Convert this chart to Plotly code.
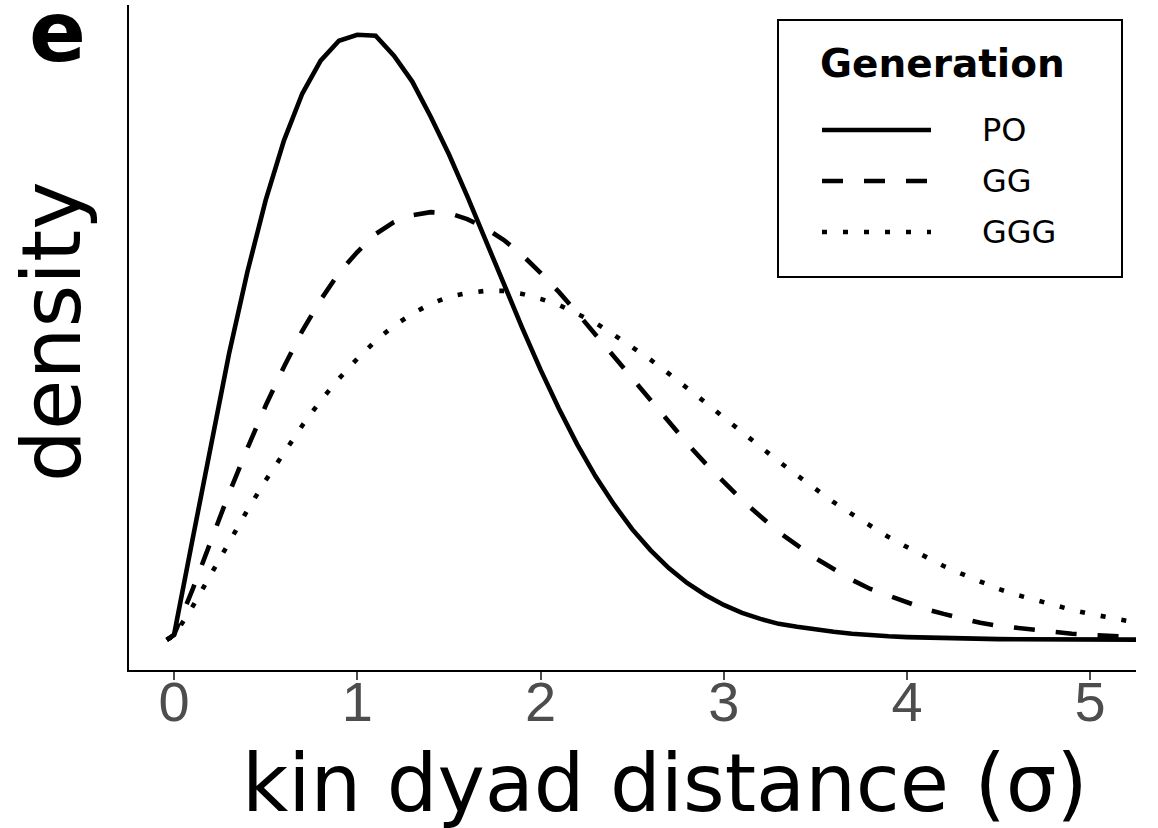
import plotly.graph_objects as go

# Kin dyad distance grid (in units of sigma)
distance = [-0.04, 0.0, 0.1, 0.2, 0.3, 0.4, 0.5, 0.6, 0.7, 0.8, 0.9,
            1.0, 1.1, 1.2, 1.3, 1.4, 1.5, 1.6, 1.7, 1.8, 1.9,
            2.0, 2.1, 2.2, 2.3, 2.4, 2.5, 2.6, 2.7, 2.8, 2.9,
            3.0, 3.1, 3.2, 3.3, 3.4, 3.5, 3.6, 3.7, 3.8, 3.9,
            4.0, 4.1, 4.2, 4.3, 4.4, 4.5, 4.6, 4.7, 4.8, 4.9,
            5.0, 5.1, 5.2, 5.3]

# Density of each generation category
density_po = [0.0, 0.005, 0.100, 0.196, 0.287, 0.369, 0.441, 0.501, 0.548, 0.581, 0.601,
              0.607, 0.606, 0.586, 0.560, 0.525, 0.487, 0.445, 0.401, 0.356, 0.313,
              0.271, 0.232, 0.196, 0.164, 0.136, 0.111, 0.090, 0.072, 0.057, 0.045,
              0.035, 0.027, 0.021, 0.016, 0.013, 0.010, 0.008, 0.006, 0.0045, 0.0035,
              0.0027, 0.0021, 0.0016, 0.0012, 0.0009, 0.0007, 0.0005, 0.0004, 0.0003, 0.0002,
              0.0002, 0.0001, 0.0001, 0.0001]
density_gg = [0.0, 0.005, 0.050, 0.099, 0.147, 0.192, 0.235, 0.274, 0.310, 0.341, 0.368,
              0.389, 0.407, 0.419, 0.426, 0.429, 0.428, 0.422, 0.413, 0.401, 0.386,
              0.368, 0.349, 0.328, 0.306, 0.284, 0.262, 0.240, 0.218, 0.197, 0.177,
              0.158, 0.140, 0.124, 0.108, 0.095, 0.082, 0.071, 0.060, 0.051, 0.044,
              0.037, 0.031, 0.026, 0.021, 0.017, 0.014, 0.012, 0.0094, 0.0076, 0.0061,
              0.0048, 0.0038, 0.0030, 0.0023]
density_ggg = [0.0, 0.004, 0.033, 0.066, 0.099, 0.130, 0.160, 0.188, 0.215, 0.240, 0.262,
               0.282, 0.300, 0.315, 0.327, 0.337, 0.344, 0.348, 0.350, 0.350, 0.347,
               0.342, 0.336, 0.327, 0.318, 0.306, 0.294, 0.281, 0.267, 0.253, 0.238,
               0.223, 0.208, 0.194, 0.179, 0.165, 0.151, 0.138, 0.126, 0.114, 0.103,
               0.093, 0.083, 0.074, 0.066, 0.058, 0.051, 0.045, 0.040, 0.034, 0.030,
               0.026, 0.022, 0.019, 0.016]

generations = ["PO", "GG", "GGG"]
series = [density_po, density_gg, density_ggg]
dashes = ["solid", "21px,21px", "5px,16px"]

x_ticks = [0, 1, 2, 3, 4, 5]

W, H = 1158, 828
ML, MR, MT, MB = 129, 22, 5, 158
PW, PH = W - ML - MR, H - MT - MB
LW = 4.6


def px(x):
    return (x - ML) / PW


def py(y):
    return (H - MB - y) / PH


fig = go.Figure()
for name, ys, dash in zip(generations, series, dashes):
    fig.add_trace(go.Scatter(
        x=distance, y=ys, mode="lines", name=name, showlegend=False,
        line=dict(color="black", width=LW, dash=dash),
    ))

shapes = []
annotations = []

# Legend box with title and line samples
shapes.append(dict(type="rect", xref="paper", yref="paper",
                   x0=px(778), x1=px(1122), y0=py(277), y1=py(20),
                   line=dict(color="black", width=2), fillcolor="white", layer="above"))
annotations.append(dict(xref="paper", yref="paper", x=px(818), y=py(63),
                        text="<b>Generation</b>", showarrow=False,
                        xanchor="left", yanchor="middle",
                        font=dict(family="DejaVu Sans", size=39, color="black")))
for i, (name, dash) in enumerate(zip(generations, dashes)):
    yrow = 130 + i * 51
    shapes.append(dict(type="line", xref="paper", yref="paper",
                       x0=px(822), x1=px(931), y0=py(yrow), y1=py(yrow),
                       line=dict(color="black", width=LW, dash=dash), layer="above"))
    annotations.append(dict(xref="paper", yref="paper", x=px(980), y=py(yrow),
                            text=name, showarrow=False, xanchor="left", yanchor="middle",
                            font=dict(family="DejaVu Sans", size=32, color="black")))

# Axis titles and panel tag
annotations.append(dict(xref="paper", yref="paper", x=px(665), y=py(783),
                        text="kin dyad distance (σ)", showarrow=False,
                        xanchor="center", yanchor="middle",
                        font=dict(family="DejaVu Sans", size=80, color="black")))
annotations.append(dict(xref="paper", yref="paper", x=px(51), y=py(332),
                        text="density", showarrow=False, textangle=-90,
                        xanchor="center", yanchor="middle",
                        font=dict(family="DejaVu Sans", size=82, color="black")))
annotations.append(dict(xref="paper", yref="paper", x=px(57), y=py(32),
                        text="<b>e</b>", showarrow=False,
                        xanchor="center", yanchor="middle",
                        font=dict(family="DejaVu Sans", size=84, color="black")))

fig.update_layout(
    width=W, height=H,
    margin=dict(l=ML, r=MR, t=MT, b=MB, pad=0),
    plot_bgcolor="white", paper_bgcolor="white",
    shapes=shapes, annotations=annotations,
    showlegend=False,
)
fig.update_xaxes(
    range=[-0.246, 5.25], tickvals=x_ticks, ticktext=[str(t) for t in x_ticks],
    showline=True, linecolor="black", linewidth=2,
    ticks="outside", ticklen=8, tickwidth=2, tickcolor="#4D4D4D",
    ticklabelstandoff=-26,
    tickfont=dict(family="Liberation Sans Narrow, Arial Narrow, Liberation Sans", size=56, color="#4D4D4D"),
    showgrid=False, zeroline=False,
)
fig.update_yaxes(
    range=[-0.0303, 0.6368],
    showline=True, linecolor="black", linewidth=2,
    showticklabels=False, ticks="",
    showgrid=False, zeroline=False,
)

fig.write_html("out.html")
